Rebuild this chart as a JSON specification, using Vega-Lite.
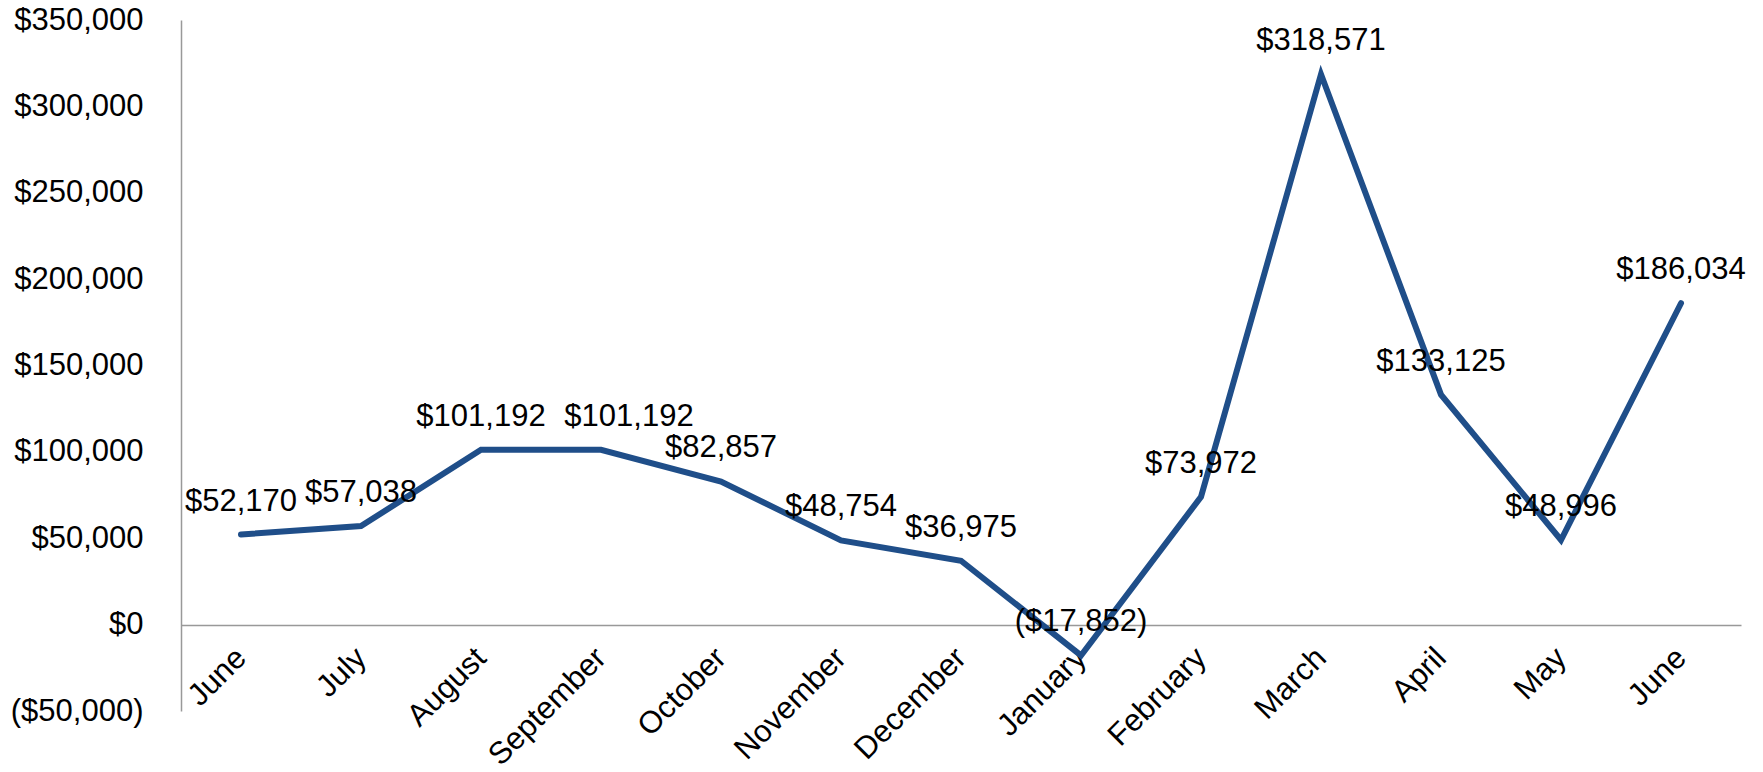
{
  "$schema": "https://vega.github.io/schema/vega-lite/v6.json",
  "autosize": "none",
  "width": 1560,
  "height": 691,
  "padding": {"left": 181, "top": 20, "right": 22, "bottom": 61},
  "background": "white",
  "config": {
    "view": {"stroke": null},
    "font": "Liberation Sans",
    "axis": {"grid": false, "ticks": false, "domainColor": "#999999", "domainWidth": 1.5, "labelFont": "Liberation Sans", "labelFontSize": 31, "labelColor": "#000000"}
  },
  "data": {
    "values": [
      {"month": "June", "value": 52170, "label": "$52,170"},
      {"month": "July", "value": 57038, "label": "$57,038"},
      {"month": "August", "value": 101192, "label": "$101,192"},
      {"month": "September", "value": 101192, "label": "$101,192"},
      {"month": "October", "value": 82857, "label": "$82,857"},
      {"month": "November", "value": 48754, "label": "$48,754"},
      {"month": "December", "value": 36975, "label": "$36,975"},
      {"month": "January", "value": -17852, "label": "($17,852)"},
      {"month": "February", "value": 73972, "label": "$73,972"},
      {"month": "March", "value": 318571, "label": "$318,571"},
      {"month": "April", "value": 133125, "label": "$133,125"},
      {"month": "May", "value": 48996, "label": "$48,996"},
      {"month": "June ", "value": 186034, "label": "$186,034"}
    ]
  },
  "encoding": {
    "x": {
      "field": "month", "type": "ordinal", "sort": null,
      "scale": {"type": "point", "padding": 0.5},
      "axis": {"title": null, "orient": "bottom", "offset": -86, "labelAngle": -45, "labelAlign": "right", "labelBaseline": "middle", "labelPadding": 28, "labelExpr": "trim(datum.label)"}
    },
    "y": {
      "field": "value", "type": "quantitative",
      "scale": {"domain": [-50000, 350000], "nice": false, "zero": false},
      "axis": {"title": null, "values": [-50000, 0, 50000, 100000, 150000, 200000, 250000, 300000, 350000], "labelPadding": 38, "labelExpr": "datum.value < 0 ? '(' + format(-datum.value, '$,.0f') + ')' : format(datum.value, '$,.0f')"}
    }
  },
  "layer": [
    {"mark": {"type": "line", "color": "#1f4e89", "strokeWidth": 6, "strokeCap": "round", "strokeJoin": "miter"}},
    {
      "transform": [{"filter": "datum.month != 'September'"}],
      "mark": {"type": "text", "font": "Liberation Sans", "fontSize": 31, "color": "#000000", "baseline": "alphabetic", "align": "center", "dy": -24},
      "encoding": {"text": {"field": "label"}}
    },
    {
      "transform": [{"filter": "datum.month == 'September'"}],
      "mark": {"type": "text", "font": "Liberation Sans", "fontSize": 31, "color": "#000000", "baseline": "alphabetic", "align": "center", "dy": -24, "dx": 28},
      "encoding": {"text": {"field": "label"}}
    }
  ]
}
